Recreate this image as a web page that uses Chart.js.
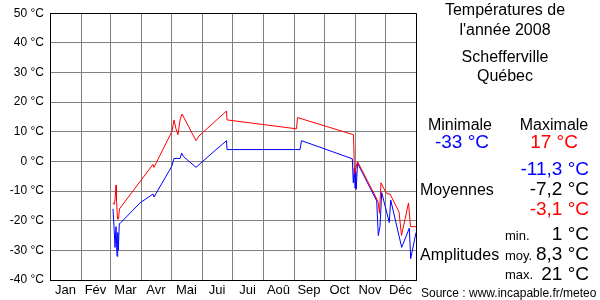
<!DOCTYPE html>
<html>
<head>
<meta charset="utf-8">
<script src="https://cdn.jsdelivr.net/npm/chart.js@4"></script>
<style>
  body { margin: 0; background: #fff; }
  #wrap { position: relative; width: 600px; height: 300px; font-family: "Liberation Sans", Arial, sans-serif; color: #000; }
  #wrap canvas { position: absolute; left: 0; top: 0; }
  .t { position: absolute; line-height: 1; white-space: nowrap; }
  .c { text-align: center; }
  .r { right: 11px; text-align: right; }
</style>
</head>
<body>
<div id="wrap">
  <canvas id="myChart" width="600" height="300"></canvas>
  <div class="t c" style="left:420px;width:170px;top:1.5px;font-size:16px">Températures de</div>
  <div class="t c" style="left:420px;width:170px;top:21.5px;font-size:16px">l'année 2008</div>
  <div class="t c" style="left:420px;width:170px;top:49px;font-size:16px">Schefferville</div>
  <div class="t c" style="left:420px;width:170px;top:67.5px;font-size:16px">Québec</div>
  <div class="t c" style="left:410px;width:100px;top:116.5px;font-size:16px">Minimale</div>
  <div class="t c" style="left:504px;width:100px;top:116.5px;font-size:16px">Maximale</div>
  <div class="t c" style="left:412px;width:100px;top:132px;font-size:19px;color:#0000ff">-33 °C</div>
  <div class="t c" style="left:504px;width:100px;top:132px;font-size:19px;color:#ff0000">17 °C</div>
  <div class="t r" style="top:159px;font-size:19px;color:#0000ff">-11,3 °C</div>
  <div class="t" style="left:420px;top:181.5px;font-size:16px">Moyennes</div>
  <div class="t r" style="top:179px;font-size:19px">-7,2 °C</div>
  <div class="t r" style="top:199px;font-size:19px;color:#ff0000">-3,1 °C</div>
  <div class="t" style="left:505px;top:229px;font-size:13px">min.</div>
  <div class="t r" style="top:224px;font-size:19px">1 °C</div>
  <div class="t" style="left:420px;top:246.5px;font-size:16px">Amplitudes</div>
  <div class="t" style="left:505px;top:249px;font-size:13px">moy.</div>
  <div class="t r" style="top:244px;font-size:19px">8,3 °C</div>
  <div class="t" style="left:505px;top:268px;font-size:13px">max.</div>
  <div class="t r" style="top:264px;font-size:19px">21 °C</div>
  <div class="t" style="left:421px;top:287px;font-size:12px">Source : www.incapable.fr/meteo</div>
</div>
<script>
const ctx = document.getElementById('myChart');

// 2008 (leap year), day-of-year positions
const monthNames = ['Jan', 'Fév', 'Mar', 'Avr', 'Mai', 'Jui', 'Jui', 'Aoû', 'Sep', 'Oct', 'Nov', 'Déc'];
const monthStarts = [0, 31, 60, 91, 121, 152, 182, 213, 244, 274, 305, 335, 366];
const tempTicks = [-40, -30, -20, -10, 0, 10, 20, 30, 40, 50];

// daily maximum (red)
const maxDays  = [63, 64, 65, 66, 66.5, 67.5, 68.5, 69.5, 103, 104, 122, 124, 126, 128, 130, 132, 146, 149, 176.5, 177, 246.5, 247.5, 303.5, 304.5, 307.5, 328, 329.5, 331, 336, 338, 340, 349, 351.5, 358.5, 360.5, 366];
const maxTemps = [-14, -14.5, -13, -8, -13, -19.4, -19.4, -16, -1, -2, 10.2, 14, 11, 9, 14, 16, 7, 8.6, 17, 14, 11, 14.8, 9, -4.4, 0, -13.5, -17.5, -7.2, -10.6, -11, -11, -17, -25, -14, -22, -22];

// daily minimum (blue)
const minDays  = [63, 64, 65, 66, 67, 67.7, 68.3, 69.3, 70.7, 90, 103, 104, 121.7, 124, 130, 131.7, 133.3, 146, 159, 176.5, 177, 250, 251.5, 302.3, 303.3, 304.3, 305, 305.7, 306.2, 307.5, 326.7, 328.3, 330, 331.7, 339.3, 340.7, 351.7, 359.3, 360.7, 366];
const minTemps = [-16, -22, -29, -22, -32, -24, -30, -21, -20.7, -14, -11, -12, -1.7, 1, 1, 2.8, 1.7, -2, 1.9, 7, 4, 4, 7, 0.9, -7.2, -2.2, -9, -3.3, -9.4, -0.6, -13.3, -25, -22, -10.5, -20.6, -13, -29, -22.5, -32.8, -24];

function toPoints(days, temps) {
  return days.map((d, i) => ({ x: d, y: temps[i] }));
}

const myChart = new Chart(ctx, {
  type: 'line',
  data: {
    datasets: [{
      label: 'Max',
      data: toPoints(maxDays, maxTemps),
      borderColor: '#ff0000',
      borderWidth: 1,
      pointRadius: 0,
      tension: 0
    }, {
      label: 'Min',
      data: toPoints(minDays, minTemps),
      borderColor: '#0000ff',
      borderWidth: 1,
      pointRadius: 0,
      tension: 0
    }]
  },
  options: {
    responsive: false,
    animation: false,
    layout: { padding: { left: 0, right: 184, top: 10, bottom: 0 } },
    plugins: { legend: { display: false }, tooltip: { enabled: false } },
    scales: {
      x: {
        type: 'linear',
        min: 0,
        max: 366,
        position: 'bottom',
        afterBuildTicks: axis => { axis.ticks = monthStarts.map(v => ({ value: v })); },
        afterFit: axis => { axis.height = 0; },
        ticks: { display: false },
        grid: {
          drawTicks: false,
          color: c => c.tick && c.tick.value === 366 ? '#000' : '#808080'
        },
        border: { color: '#000', width: 1 }
      },
      x2: {
        type: 'linear',
        min: 0,
        max: 366,
        position: 'bottom',
        afterBuildTicks: axis => {
          axis.ticks = monthNames.map((m, i) => ({ value: (monthStarts[i] + monthStarts[i + 1]) / 2 }));
        },
        afterFit: axis => { axis.height = 20; },
        ticks: {
          autoSkip: false,
          maxRotation: 0,
          padding: -5,
          color: '#000',
          font: { family: 'Liberation Sans', size: 13 },
          callback: (v, i) => monthNames[i]
        },
        grid: { display: false },
        border: { display: false }
      },
      y: {
        min: -40,
        max: 50,
        afterBuildTicks: axis => { axis.ticks = tempTicks.map(v => ({ value: v })); },
        afterFit: axis => { axis.width = 50; },
        ticks: {
          padding: 6,
          color: '#000',
          font: { family: 'Liberation Sans', size: 12 },
          callback: v => v + ' °C'
        },
        grid: {
          drawTicks: false,
          color: c => c.tick && c.tick.value === 50 ? '#000' : '#808080'
        },
        border: { color: '#000', width: 1 }
      }
    }
  }
});
</script>
</body>
</html>
